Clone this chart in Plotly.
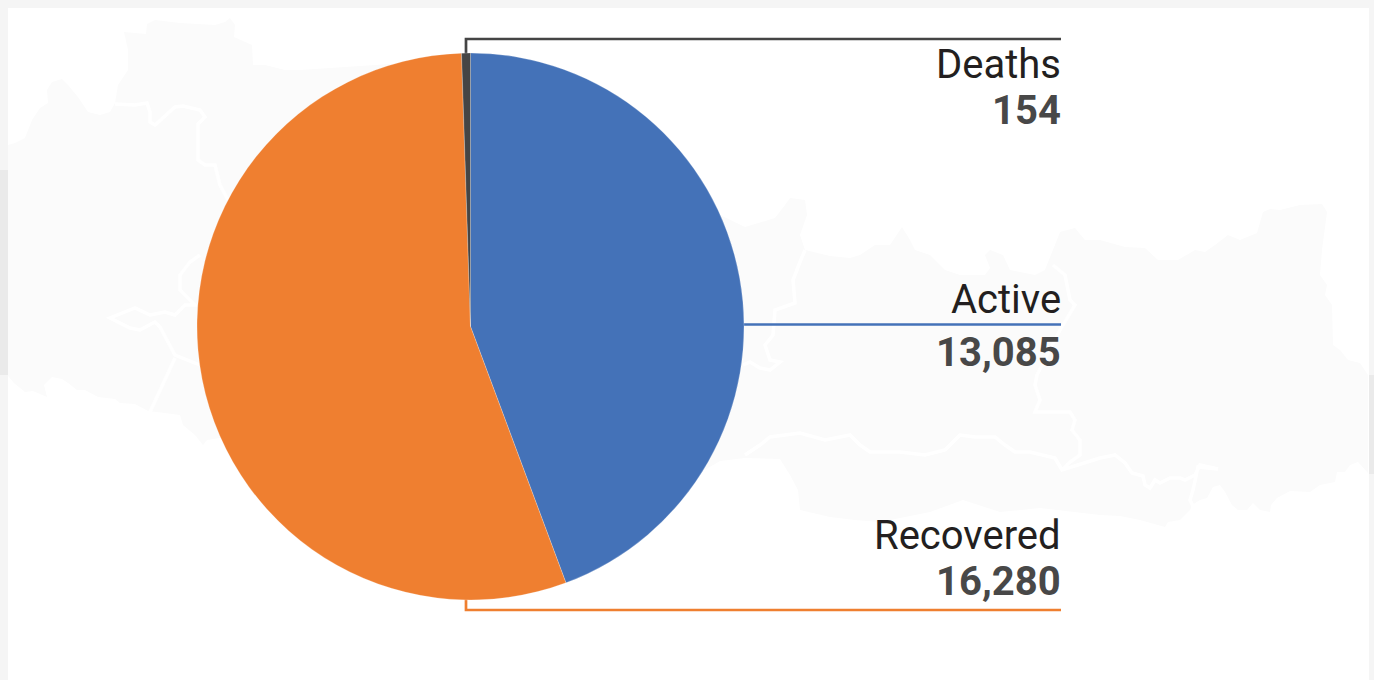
import plotly.graph_objects as go

# --- data ---
categories = ["Active", "Recovered", "Deaths"]
values = [13085, 16280, 154]
value_labels = ["13,085", "16,280", "154"]
colors = ["#4472B8", "#EF7F30", "#454545"]

# --- background map (decoration, page pixels) ---
map_outline = [
    (8,145),(15,143),(25,138),(32,120),(40,108),(48,103),(47,90),(52,82),(62,79),(68,85),(78,97),
    (88,112),(100,115),(110,112),(115,103),(118,85),(128,70),(128,50),(124,32),(146,34),(147,24),
    (155,20),(180,23),(215,25),(225,22),(230,18),(235,25),(234,37),(252,45),(253,65),(265,65),
    (285,70),(300,70),(450,60),(700,200),(720,215),(745,227),(775,218),(785,205),(790,198),(805,200),
    (807,215),(800,235),(805,250),(830,256),(850,258),(860,255),(875,245),(890,245),(902,227),
    (910,240),(915,250),(930,255),(945,270),(960,275),(985,275),(990,268),(985,255),(990,250),
    (1003,255),(1010,270),(1035,275),(1045,270),(1055,245),(1060,232),(1075,228),(1085,240),
    (1100,240),(1125,247),(1145,248),(1158,260),(1178,260),(1195,250),(1205,252),(1215,245),
    (1228,235),(1240,240),(1257,233),(1263,212),(1270,209),(1280,210),(1300,205),(1322,204),
    (1327,212),(1322,250),(1320,275),(1327,285),(1325,295),(1332,305),(1333,345),(1340,350),
    (1348,360),(1360,363),(1368,375),(1368,473),(1358,462),(1350,465),(1345,472),(1337,472),
    (1335,482),(1320,485),(1310,492),(1290,491),(1277,498),(1271,505),(1270,512),(1260,510),
    (1253,503),(1247,510),(1238,510),(1232,505),(1225,492),(1220,485),(1213,487),(1207,498),
    (1200,500),(1192,505),(1190,510),(1180,520),(1168,522),(1165,527),(1140,520),(1120,516),
    (1100,515),(1040,508),(1000,512),(963,500),(930,512),(880,522),(855,520),(830,517),(800,510),
    (798,490),(790,475),(780,459),(745,458),(720,461),(500,590),(235,450),(220,438),(207,440),
    (203,445),(195,435),(183,425),(180,415),(165,413),(148,411),(135,404),(120,403),(115,399),
    (98,397),(85,390),(77,390),(68,383),(62,379),(52,377),(44,385),(47,397),(33,391),(25,392),
    (14,383),(8,376),
]
map_borders = [
    [(115,104),(135,105),(147,103),(150,112),(150,122),(155,125),(175,107),(183,106),(200,110),
     (205,117),(198,124),(198,160),(205,165),(215,165),(220,185),(228,200)],
    [(200,255),(190,262),(180,275),(180,290),(195,305),(185,305),(175,315),(165,312),(150,315),
     (135,308),(110,318),(130,328),(140,330),(155,322),(160,327),(175,355),(200,365)],
    [(175,358),(150,412)],
    [(805,250),(800,262),(793,280),(795,303),(775,310),(773,335),(765,345),(770,360),(780,362),
     (770,370),(760,368),(750,362),(743,365)],
    [(1053,265),(1065,275),(1070,300),(1075,305),(1060,330),(1037,375),(1035,385),(1040,400),
     (1035,412),(1070,412),(1075,420),(1072,430),(1080,440),(1080,455),(1070,462),(1062,470)],
    [(745,455),(760,445),(770,437),(800,433),(825,440),(850,435),(860,445),(870,452),(900,452),
     (925,455),(945,450),(960,435),(975,437),(995,437),(1005,445),(1015,452),(1030,452),(1055,458),
     (1062,470),(1100,458),(1115,455),(1125,463),(1132,473),(1143,476),(1145,485),(1150,488),
     (1155,480),(1160,483),(1170,478),(1180,478),(1185,480),(1195,475),(1200,465),(1218,469),
     (1198,467),(1193,490),(1190,500),(1195,510)],
]


def path(points, close=False):
    return "M" + " L".join(f"{x},{y}" for x, y in points) + (" Z" if close else "")


W, H = 1374, 680
fig = go.Figure(
    go.Pie(
        labels=categories,
        values=values,
        sort=False,
        direction="clockwise",
        rotation=0,
        textinfo="none",
        hoverinfo="label+value",
        showlegend=False,
        marker=dict(colors=colors, line=dict(color="rgba(255,255,255,0.45)", width=0.5)),
        domain=dict(x=[197 / W, 744 / W], y=[1 - 600 / H, 1 - 53 / H]),
    )
)

shapes = [
    dict(type="rect", x0=8, x1=1369, y0=8, y1=680, fillcolor="white", line_width=0, layer="below"),
    dict(type="rect", x0=0, x1=8, y0=170, y1=375, fillcolor="#EAEAEA", line_width=0, layer="below"),
    dict(type="rect", x0=1369, x1=1374, y0=375, y1=474, fillcolor="#EAEAEA", line_width=0, layer="below"),
    dict(type="path", path=path(map_outline, True), fillcolor="#FBFBFB", line_width=0, layer="below"),
]
for b in map_borders:
    shapes.append(dict(type="path", path=path(b), line=dict(color="white", width=3.5), layer="below"))
leaders = [
    ([(466, 60), (466, 39), (1061, 39)], colors[2]),
    ([(740, 324.5), (1061, 324.5)], colors[0]),
    ([(466, 590), (466, 610), (1061, 610)], colors[1]),
]
for pts, c in leaders:
    shapes.append(dict(type="path", path=path(pts), line=dict(color=c, width=2.7), layer="below"))

label_rows = [("Deaths", 64.5), ("Active", 299.5), ("Recovered", 535.5)]
value_rows = {"154": 110.5, "13,085": 352.5, "16,280": 581.5}
annotations = []
for name, y1 in label_rows:
    annotations.append(dict(x=1063, y=y1, text=name, showarrow=False, xanchor="right", yanchor="middle",
                            font=dict(family="Roboto", size=40, color="#231F20")))
for val, y2 in value_rows.items():
    annotations.append(dict(x=1063, y=y2, text=f"<b>{val}</b>", showarrow=False, xanchor="right", yanchor="middle",
                            font=dict(family="Roboto", size=40, color="#484848")))

fig.update_layout(
    width=W, height=H, margin=dict(l=0, r=0, t=0, b=0),
    paper_bgcolor="#F5F5F5", plot_bgcolor="rgba(0,0,0,0)",
    xaxis=dict(range=[0, W], visible=False, fixedrange=True),
    yaxis=dict(range=[H, 0], visible=False, fixedrange=True),
    shapes=shapes, annotations=annotations,
)
fig.add_trace(go.Scatter(x=[None], y=[None], showlegend=False, hoverinfo="skip"))
fig.write_html("out.html", config=dict(displayModeBar=False),
               post_script="document.body.style.margin='0';document.body.style.overflow='hidden';")
